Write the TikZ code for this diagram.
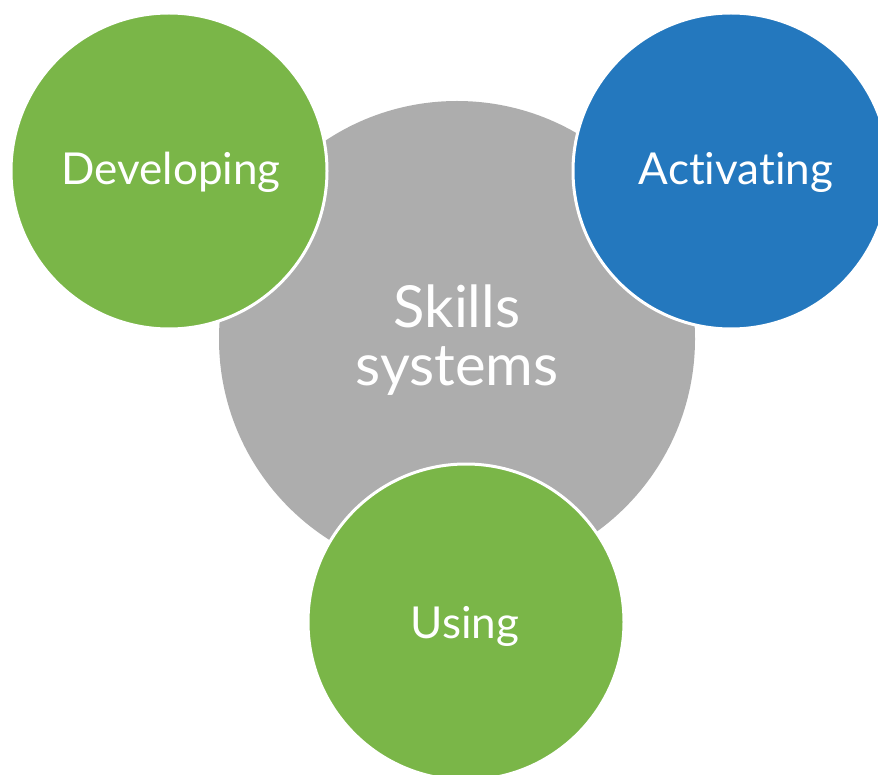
\documentclass[tikz,border=0pt]{standalone}
\usepackage{fontspec}
\setmainfont[Ligatures={NoCommon}]{Lato}
\definecolor{skillgray}{HTML}{ADADAD}
\definecolor{skillgreen}{HTML}{7AB648}
\definecolor{skillblue}{HTML}{2478BE}
\begin{document}
\begin{tikzpicture}[x=1pt,y=-1pt,bubble/.style={circle,draw=white,line width=3pt,inner sep=0pt,minimum size=316pt},label/.style={text=white,inner sep=0pt,anchor=base}]
    \useasboundingbox (0,0) rectangle (878,775);
    %core
    \node (core) at (457,339)[circle,fill=skillgray,minimum size=476pt,inner sep=0pt]{};
    %outer circles
    \node (dev) at (169,171)[bubble,fill=skillgreen]{};
    \node (act) at (731,171)[bubble,fill=skillblue]{};
    \node (use) at (466,622)[bubble,fill=skillgreen]{};
    %texts
    \node (devtext) at (171,185)[label,font=\fontsize{44}{50}\selectfont]{Developing};
    \node (acttext) at (736,185)[label,font=\fontsize{44}{50}\selectfont]{Activating};
    \node (usetext) at (465,638)[label,font=\fontsize{44}{50}\selectfont]{Using};
    \node (coretext) at (457,385)[label,align=center,font=\fontsize{58}{58}\selectfont]{Skills\\systems};
\end{tikzpicture}
\end{document}
